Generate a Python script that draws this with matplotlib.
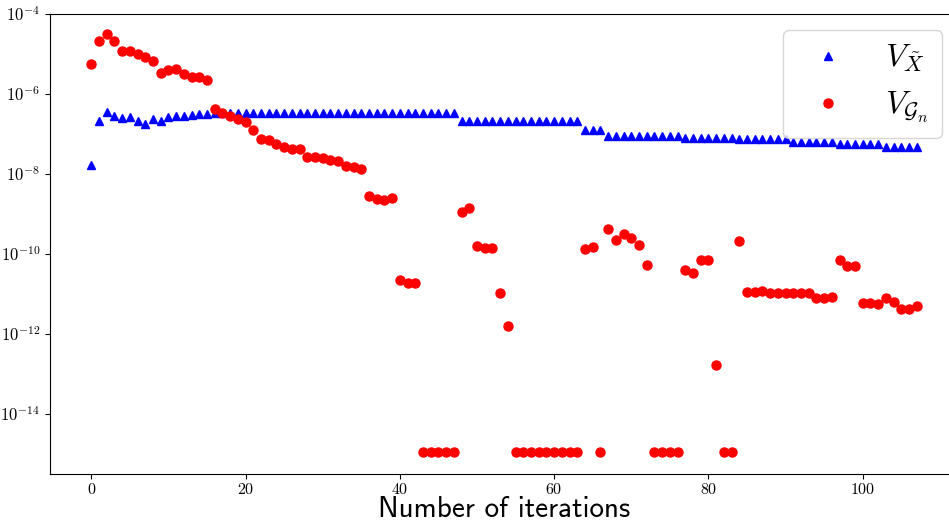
import matplotlib
matplotlib.use('Agg')
import matplotlib.pyplot as plt
from matplotlib.ticker import NullLocator

# Schriften: Computer Modern ueber mathtext
plt.rcParams['mathtext.fontset'] = 'cm'

# Daten
iterationen = list(range(108))

v_x_tilde = [1.7e-8, 2.1e-7, 3.6e-7, 2.8e-7, 2.5e-7, 2.6e-7, 2.1e-7, 1.8e-7, 2.4e-7, 2.1e-7,
             2.6e-7, 2.8e-7, 2.9e-7, 3.0e-7, 3.2e-7, 3.2e-7, 3.3e-7, 3.3e-7, 3.3e-7, 3.3e-7,
             3.3e-7, 3.3e-7, 3.3e-7, 3.3e-7, 3.3e-7, 3.3e-7, 3.3e-7, 3.3e-7, 3.3e-7, 3.3e-7,
             3.3e-7, 3.3e-7, 3.3e-7, 3.3e-7, 3.3e-7, 3.3e-7, 3.3e-7, 3.3e-7, 3.3e-7, 3.3e-7,
             3.3e-7, 3.3e-7, 3.3e-7, 3.3e-7, 3.3e-7, 3.3e-7, 3.3e-7, 3.3e-7, 2.1e-7, 2.1e-7,
             2.1e-7, 2.1e-7, 2.1e-7, 2.1e-7, 2.1e-7, 2.1e-7, 2.1e-7, 2.1e-7, 2.1e-7, 2.1e-7,
             2.1e-7, 2.1e-7, 2.1e-7, 2.1e-7, 1.26e-7, 1.26e-7, 1.26e-7, 9.1e-8, 9.1e-8, 9.1e-8,
             9.1e-8, 9.1e-8, 9.1e-8, 9.1e-8, 9.1e-8, 9.1e-8, 9.1e-8, 7.9e-8, 7.9e-8, 7.9e-8,
             7.9e-8, 7.9e-8, 7.9e-8, 7.9e-8, 7.4e-8, 7.4e-8, 7.4e-8, 7.4e-8, 7.4e-8, 7.4e-8,
             7.4e-8, 6.3e-8, 6.3e-8, 6.3e-8, 6.3e-8, 6.3e-8, 6.3e-8, 5.5e-8, 5.5e-8, 5.5e-8,
             5.5e-8, 5.5e-8, 5.5e-8, 4.8e-8, 4.8e-8, 4.8e-8, 4.8e-8, 4.8e-8]

v_g_n = [5.5e-6, 2.1e-5, 3.1e-5, 2.1e-5, 1.2e-5, 1.17e-5, 9.8e-6, 8.3e-6, 6.7e-6, 3.4e-6,
         4.0e-6, 4.3e-6, 3.1e-6, 2.6e-6, 2.7e-6, 2.2e-6, 4.2e-7, 3.4e-7, 2.9e-7, 2.4e-7,
         1.96e-7, 1.28e-7, 7.6e-8, 7.1e-8, 5.6e-8, 4.8e-8, 4.1e-8, 4.1e-8, 2.7e-8, 2.6e-8,
         2.5e-8, 2.2e-8, 2.1e-8, 1.6e-8, 1.5e-8, 1.35e-8, 2.9e-9, 2.4e-9, 2.3e-9, 2.5e-9,
         2.3e-11, 1.85e-11, 1.85e-11, 1.1e-15, 1.1e-15, 1.1e-15, 1.1e-15, 1.1e-15, 1.15e-9, 1.4e-9,
         1.55e-10, 1.4e-10, 1.4e-10, 1.07e-11, 1.55e-12, 1.1e-15, 1.1e-15, 1.1e-15, 1.1e-15, 1.1e-15,
         1.1e-15, 1.1e-15, 1.1e-15, 1.1e-15, 1.3e-10, 1.5e-10, 1.1e-15, 4.2e-10, 2.3e-10, 3.2e-10,
         2.5e-10, 1.67e-10, 5.4e-11, 1.1e-15, 1.1e-15, 1.1e-15, 1.1e-15, 3.9e-11, 3.3e-11, 7.1e-11,
         7.1e-11, 1.7e-13, 1.1e-15, 1.1e-15, 2.1e-10, 1.1e-11, 1.1e-11, 1.17e-11, 1.06e-11, 1.08e-11,
         1.08e-11, 1.08e-11, 1.04e-11, 1.05e-11, 8.1e-12, 8.0e-12, 8.2e-12, 7.1e-11, 5.1e-11, 5.1e-11,
         6.0e-12, 6.0e-12, 5.6e-12, 8.1e-12, 6.3e-12, 4.3e-12, 4.3e-12, 5.0e-12]

x_ticks = [0, 20, 40, 60, 80, 100]
x_tick_labels = [r'$0$', r'$20$', r'$40$', r'$60$', r'$80$', r'$100$']
y_ticks = [1e-14, 1e-12, 1e-10, 1e-8, 1e-6, 1e-4]
y_tick_labels = [r'$10^{-14}$', r'$10^{-12}$', r'$10^{-10}$', r'$10^{-8}$', r'$10^{-6}$', r'$10^{-4}$']

# Plot erzeugen (Achse rechts etwas ueber den Rand hinaus, wie im Original beschnitten)
fig = plt.figure(figsize=(9.49, 5.25), dpi=100)
ax = fig.add_axes([50/949, 51/525, 908/949, 460/525])

ax.plot(iterationen, v_x_tilde, 'b^', markersize=6, label=r'$V_{\tilde{X}}$')
ax.plot(iterationen, v_g_n, 'ro', markersize=6.5, label=r'$V_{\mathcal{G}_n}$')

ax.set_yscale('log')
ax.set_ylim(10**-15.5, 1e-4)
ax.set_yticks(y_ticks)
ax.set_yticklabels(y_tick_labels, fontsize=12)
ax.yaxis.set_minor_locator(NullLocator())
ax.set_xticks(x_ticks)
ax.set_xticklabels(x_tick_labels, fontsize=11.5)
ax.tick_params(axis='x', pad=2.5)

ax.set_xlabel('Number of iterations', fontsize=21, family='cmss10', labelpad=-1)
ax.legend(loc='upper right', fontsize=23)

fig.savefig('out.png', dpi=100)
